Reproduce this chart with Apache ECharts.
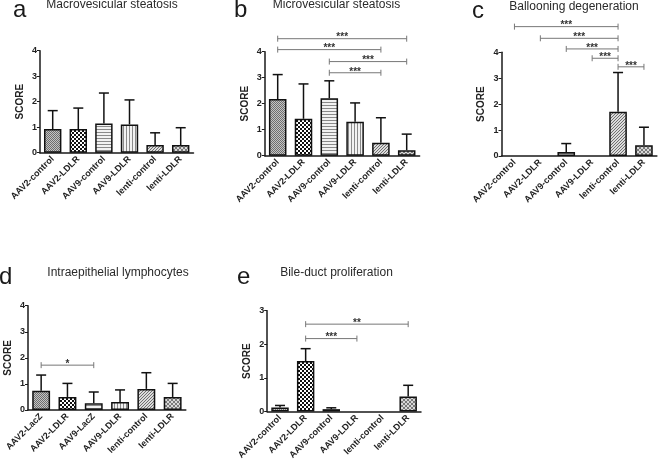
<!DOCTYPE html>
<html>
<head>
<meta charset="utf-8">
<script src="https://cdn.jsdelivr.net/npm/echarts@6/dist/echarts.min.js"></script>
<style>
html,body{margin:0;padding:0;background:#fff;}
#chart{width:658px;height:462px;}
</style>
</head>
<body>
<div id="chart"></div>
<script>
// ---------------- DATA ----------------
const catsA = ['AAV2-control','AAV2-LDLR','AAV9-control','AAV9-LDLR','lenti-control','lenti-LDLR'];
const catsB = ['AAV2-control','AAV2-LDLR','AAV9-control','AAV9-LDLR','lenti-control','lenti-LDLR'];
const catsC = ['AAV2-control','AAV2-LDLR','AAV9-control','AAV9-LDLR','lenti-control','lenti-LDLR'];
const catsD = ['AAV2-LacZ','AAV2-LDLR','AAV9-LacZ','AAV9-LDLR','lenti-control','lenti-LDLR'];
const catsE = ['AAV2-control','AAV2-LDLR','AAV9-control','AAV9-LDLR','lenti-control','lenti-LDLR'];

const meanA = [0.93, 0.93, 1.15, 1.11, 0.30, 0.30];
const errA  = [0.72, 0.82, 1.19, 0.96, 0.48, 0.68];
const meanB = [2.18, 1.42, 2.21, 1.31, 0.50, 0.21];
const errB  = [0.94, 1.34, 0.67, 0.72, 0.96, 0.62];
const meanC = [0, 0, 0.15, 0, 1.71, 0.41];
const errC  = [0, 0, 0.33, 0, 1.51, 0.70];
const meanD = [0.74, 0.50, 0.26, 0.31, 0.81, 0.50];
const errD  = [0.60, 0.52, 0.43, 0.46, 0.62, 0.52];
const meanE = [0.12, 1.50, 0.07, 0, 0, 0.45];
const errE  = [0.06, 0.37, 0.04, 0, 0, 0.33];

// brackets: [fromIndex, toIndex, yValue, label]
const sigB = [[0,5,4.5,'***'],[0,4,4.08,'***'],[2,5,3.62,'***'],[2,4,3.19,'***']];
const sigC = [[0,4,4.99,'***'],[1,4,4.54,'***'],[2,4,4.13,'***'],[3,4,3.77,'***'],[4,5,3.44,'***']];
const sigD = [[0,2,1.72,'*']];
const sigE = [[1,5,2.6,'**'],[1,3,2.17,'***']];

const titles = ['Macrovesicular steatosis','Microvesicular steatosis','Ballooning degeneration','Intraepithelial lymphocytes','Bile-duct proliferation'];
const letters = ['a','b','c','d','e'];
const yMax = [4,4,4,4,3];
const yAxisName = 'SCORE';

// ---------------- STYLE ----------------
function tile(w, h, bg, fg, pts) {
  const c = document.createElement('canvas');
  c.width = w; c.height = h;
  const g = c.getContext('2d');
  g.fillStyle = bg; g.fillRect(0,0,w,h);
  g.fillStyle = fg;
  pts.forEach(p => g.fillRect(p[0], p[1], p[2]||1, p[3]||1));
  return {image: c, repeat: 'repeat'};
}
const patterns = [
  tile(2,2,'#c4c4c4','#6e6e6e',[[0,0],[1,1]]),                 // fine check grey
  tile(4,4,'#ffffff','#111111',[[0,0,2,2],[2,2,2,2]]),         // coarse checker
  tile(1,3,'#f2f2f2','#8a8a8a',[[0,0]]),                       // horizontal lines
  tile(3,1,'#f2f2f2','#8a8a8a',[[0,0]]),                       // vertical lines
  tile(3,3,'#dcdcdc','#707070',[[2,0],[1,1],[0,2]]),           // diagonal
  tile(4,4,'#d8d8d8','#7a7a7a',[[0,0],[1,1],[2,2],[3,3],[3,0],[2,1],[1,2],[0,3]]) // crosshatch
];

const grids = [
  {left: 39.9, top: 50.7, width: 153.6, height: 102},
  {left: 264.8, top: 51.7, width: 154.8, height: 104},
  {left: 501.5, top: 52.3, width: 155.4, height: 103.7},
  {left: 28, top: 305.7, width: 157.8, height: 104.3},
  {left: 267.2, top: 310.7, width: 153.8, height: 101.6}
];
const titlePos = [[112,4.5],[336.5,4.5],[574,6.5],[118,272.5],[336.5,272.5]];
const letterPos = [[13,10],[234,10],[472,11],[-1,277],[237,277]];

const FONT = '"Liberation Sans", Arial, sans-serif';
const cats = [catsA,catsB,catsC,catsD,catsE];
const means = [meanA,meanB,meanC,meanD,meanE];
const errs = [errA,errB,errC,errD,errE];
const sigs = [[],sigB,sigC,sigD,sigE];

const xAxes = [], yAxes = [], series = [], graphics = [];
cats.forEach((c, i) => {
  xAxes.push({
    type: 'category', gridIndex: i, data: c,
    axisLine: {lineStyle: {color: '#1a1a1a', width: 1.5}},
    axisTick: {alignWithLabel: true, length: 3, lineStyle: {color: '#1a1a1a', width: 1}},
    axisLabel: {rotate: 45, fontSize: 9, fontWeight: 'bold', color: '#222', fontFamily: FONT, margin: 5, interval: 0}
  });
  yAxes.push({
    type: 'value', gridIndex: i, min: 0, max: yMax[i], interval: 1,
    name: yAxisName, nameLocation: 'middle', nameGap: 15, nameRotate: 90,
    nameTextStyle: {fontSize: 10, fontWeight: 'bold', color: '#222', fontFamily: FONT},
    axisLine: {show: true, lineStyle: {color: '#1a1a1a', width: 1.5}},
    axisTick: {show: true, length: 3, lineStyle: {color: '#1a1a1a', width: 1}},
    axisLabel: {fontSize: 9, fontWeight: 'bold', color: '#222', fontFamily: FONT, margin: 3},
    splitLine: {show: false}
  });
  series.push({
    type: 'bar', xAxisIndex: i, yAxisIndex: i, barWidth: '68%',
    data: means[i].map((v, k) => ({value: v, itemStyle: {color: patterns[k], borderWidth: v > 0 ? 1.5 : 0}})),
    itemStyle: {borderColor: '#111', borderWidth: 1.5},
    z: 2
  });
  series.push({
    type: 'custom', xAxisIndex: i, yAxisIndex: i, z: 3,
    data: means[i].map((v, k) => [k, v, errs[i][k]]),
    renderItem: function (params, api) {
      const e = api.value(2);
      if (!(e > 0)) return {type: 'group', children: []};
      const b = api.coord([api.value(0), api.value(1)]);
      const t = api.coord([api.value(0), api.value(1) + e]);
      const st = {stroke: '#111', lineWidth: 1.5};
      return {type: 'group', children: [
        {type: 'line', shape: {x1: b[0], y1: b[1], x2: t[0], y2: t[1]}, style: st},
        {type: 'line', shape: {x1: t[0] - 5, y1: t[1], x2: t[0] + 5, y2: t[1]}, style: st}
      ]};
    }
  });
  if (sigs[i].length) {
    series.push({
      type: 'custom', xAxisIndex: i, yAxisIndex: i, z: 4, clip: false,
      data: sigs[i],
      renderItem: function (params, api) {
        const p1 = api.coord([api.value(0), api.value(2)]);
        const p2 = api.coord([api.value(1), api.value(2)]);
        const lab = sigs[i][params.dataIndex][3];
        const st = {stroke: '#777', lineWidth: 1};
        return {type: 'group', children: [
          {type: 'line', shape: {x1: p1[0], y1: p1[1], x2: p2[0], y2: p2[1]}, style: st},
          {type: 'line', shape: {x1: p1[0], y1: p1[1] - 3, x2: p1[0], y2: p1[1] + 3}, style: st},
          {type: 'line', shape: {x1: p2[0], y1: p2[1] - 3, x2: p2[0], y2: p2[1] + 3}, style: st},
          {type: 'text', x: (p1[0] + p2[0]) / 2, y: p1[1] - 1, style: {text: lab, fill: '#333', font: 'bold 10px ' + FONT, textAlign: 'center', textVerticalAlign: 'middle'}}
        ]};
      }
    });
  }
  graphics.push({type: 'text', x: titlePos[i][0], y: titlePos[i][1],
    style: {text: titles[i], fill: '#2a2a2a', font: '12px ' + FONT, textAlign: 'center', textVerticalAlign: 'middle'}});
  graphics.push({type: 'text', x: letterPos[i][0], y: letterPos[i][1],
    style: {text: letters[i], fill: '#1a1a1a', font: '24px ' + FONT, textAlign: 'left', textVerticalAlign: 'middle'}});
});

const chart = echarts.init(document.getElementById('chart'), null, {renderer: 'canvas'});
chart.setOption({
  animation: false,
  backgroundColor: '#fff',
  grid: grids.map(g => Object.assign({containLabel: false}, g)),
  xAxis: xAxes,
  yAxis: yAxes,
  series: series,
  graphic: graphics
});
</script>
</body>
</html>
